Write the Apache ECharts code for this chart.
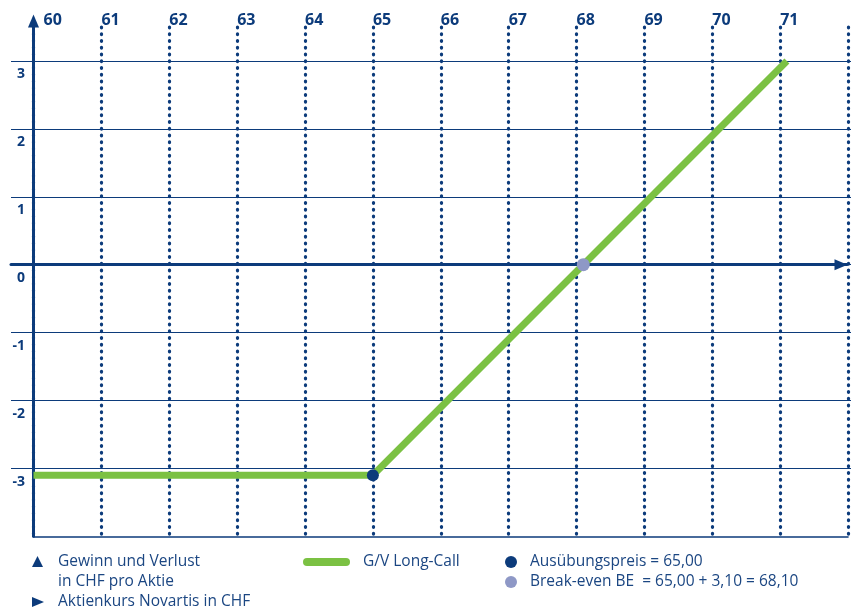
<!DOCTYPE html>
<html>
<head>
<meta charset="utf-8">
<script src="https://cdn.jsdelivr.net/npm/echarts@6/dist/echarts.min.js"></script>
<style>
  html, body { margin: 0; padding: 0; background: #fff; }
  #chart { width: 851px; height: 611px; }
</style>
</head>
<body>
<div id="chart"></div>
<script>
// Share price axis (CHF) and profit/loss axis (CHF per share)
const priceMin = 60;
const priceMax = 72;
const plMin = -4;
const plMax = 3.5;
const priceTickLabels = ['60', '61', '62', '63', '64', '65', '66', '67', '68', '69', '70', '71', ''];
const plTickLabels = ['3', '2', '1', '0', '-1', '-2', '-3'];

// Long call payoff: premium 3,10 lost below strike 65,00, then rises 1:1
const payoffPrice = [60, 65, 71.1];
const payoffPL = [-3.1, -3.1, 3.0];
const strikePrice = [65];
const strikePL = [-3.1];
const breakEvenPrice = [68.1];
const breakEvenPL = [0];

// Legend texts
const legendAxisTexts = ['Gewinn und Verlust', 'in CHF pro Aktie', 'Aktienkurs Novartis in CHF'];
const legendSeriesText = 'G/V Long-Call';
const legendStrikeText = 'Ausübungspreis = 65,00';
const legendBreakEvenText = 'Break-even BE  = 65,00 + 3,10 = 68,10';

const NAVY = '#0c3b7b';
const TEXT = '#1b4682';
const GREEN = '#7bc143';
const GREY = '#8e98c6';
const FONT = '"Open Sans", "DejaVu Sans", sans-serif';

const gridTop = 27;
const gridHeight = 509.25;

const chart = echarts.init(document.getElementById('chart'), null, { renderer: 'canvas' });

const legendFont = '15.5px ' + FONT;

function legendText(x, y, text) {
  return {
    type: 'text',
    style: { x: x, y: y, text: text, font: legendFont, fill: TEXT, align: 'left', verticalAlign: 'middle' }
  };
}

chart.setOption({
  animation: false,
  backgroundColor: '#ffffff',
  grid: [
    // horizontal grid lines, reaching left of the vertical axis
    { left: 11, right: 0, top: gridTop, height: gridHeight },
    // main plot area
    { left: 33.5, width: 814.8, top: gridTop, height: gridHeight },
    // zero line with arrow
    { left: 11, width: 836, top: gridTop, height: gridHeight }
  ],
  xAxis: [
    { gridIndex: 0, type: 'value', min: 0, max: 1, show: false },
    {
      gridIndex: 1, type: 'value', position: 'top', min: priceMin, max: priceMax, interval: 1,
      axisLine: { show: false }, axisTick: { show: false },
      axisLabel: {
        align: 'left', verticalAlign: 'middle', margin: 7,
        color: NAVY, fontFamily: FONT, fontWeight: 'bold', fontSize: 16,
        formatter: function (v) {
          const s = priceTickLabels[Math.round(v - priceMin)] || '';
          return v === priceMin ? '{first|' + s + '}' : s;
        },
        rich: {
          first: { padding: [0, 0, 0, 10], color: NAVY, fontFamily: FONT, fontWeight: 'bold', fontSize: 16 }
        }
      },
      splitLine: {
        show: true,
        lineStyle: { color: NAVY, width: 3.2, type: [0.8, 5.95], cap: 'round' }
      }
    },
    {
      gridIndex: 1, type: 'value', position: 'bottom', min: priceMin, max: priceMax,
      axisLine: { show: true, onZero: false, lineStyle: { color: NAVY, width: 1.6 } },
      axisTick: { show: false }, axisLabel: { show: false }, splitLine: { show: false }
    },
    {
      gridIndex: 2, type: 'value', min: 0, max: 1,
      axisLine: {
        show: true, onZero: true,
        symbol: ['none', 'triangle'], symbolSize: [11, 13], symbolOffset: [0, -6],
        lineStyle: { color: NAVY, width: 3 }
      },
      axisTick: { show: false }, axisLabel: { show: false }, splitLine: { show: false }
    }
  ],
  yAxis: [
    {
      gridIndex: 0, type: 'value', min: plMin, max: plMax, interval: 1,
      axisLine: { show: false }, axisTick: { show: false },
      axisLabel: {
        margin: -14, align: 'right', verticalAlign: 'top', lineHeight: 27,
        color: NAVY, fontFamily: FONT, fontWeight: 'bold', fontSize: 14,
        formatter: function (v) {
          const i = Math.round(3 - v);
          return (Number.isInteger(v) && i >= 0 && i < plTickLabels.length) ? plTickLabels[i] : '';
        }
      },
      splitLine: { show: true, showMinLine: false, showMaxLine: false, lineStyle: { color: NAVY, width: 1 } }
    },
    {
      gridIndex: 1, type: 'value', min: plMin, max: plMax, interval: 1,
      axisLine: {
        show: true, onZero: false,
        symbol: ['none', 'triangle'], symbolSize: [11, 13], symbolOffset: [0, 6],
        lineStyle: { color: NAVY, width: 3 }
      },
      axisTick: { show: false }, axisLabel: { show: false }, splitLine: { show: false }
    },
    { gridIndex: 2, type: 'value', min: plMin, max: plMax, show: false }
  ],
  series: [
    {
      type: 'line', name: legendSeriesText, xAxisIndex: 1, yAxisIndex: 1,
      data: payoffPrice.map((p, i) => [p, payoffPL[i]]),
      showSymbol: false, symbol: 'none', clip: false,
      lineStyle: { color: GREEN, width: 7, cap: 'butt', join: 'miter' },
      z: 3
    },
    {
      type: 'scatter', name: legendStrikeText, xAxisIndex: 1, yAxisIndex: 1,
      data: strikePrice.map((p, i) => [p, strikePL[i]]),
      symbolSize: 12, itemStyle: { color: NAVY, opacity: 1 }, z: 5
    },
    {
      type: 'scatter', name: legendBreakEvenText, xAxisIndex: 1, yAxisIndex: 1,
      data: breakEvenPrice.map((p, i) => [p, breakEvenPL[i]]),
      symbolSize: 13, itemStyle: { color: GREY, opacity: 1 }, z: 5
    }
  ],
  graphic: [
    // axis keys: up triangle for the vertical axis, right triangle for the horizontal axis
    { type: 'polygon', shape: { points: [[32, 567], [37.5, 556], [43, 567]] }, style: { fill: NAVY } },
    legendText(58, 562, legendAxisTexts[0]),
    legendText(58, 582, legendAxisTexts[1]),
    { type: 'polygon', shape: { points: [[32, 597], [44, 602], [32, 607]] }, style: { fill: NAVY } },
    legendText(58, 602, legendAxisTexts[2]),
    {
      type: 'line', shape: { x1: 307, y1: 562, x2: 346, y2: 562 },
      style: { stroke: GREEN, lineWidth: 8, lineCap: 'round' }
    },
    legendText(363, 562, legendSeriesText),
    { type: 'circle', shape: { cx: 511, cy: 562, r: 6 }, style: { fill: NAVY } },
    legendText(530, 562, legendStrikeText),
    { type: 'circle', shape: { cx: 511, cy: 582, r: 6 }, style: { fill: GREY } },
    legendText(530, 582, legendBreakEvenText)
  ]
});
</script>
</body>
</html>
